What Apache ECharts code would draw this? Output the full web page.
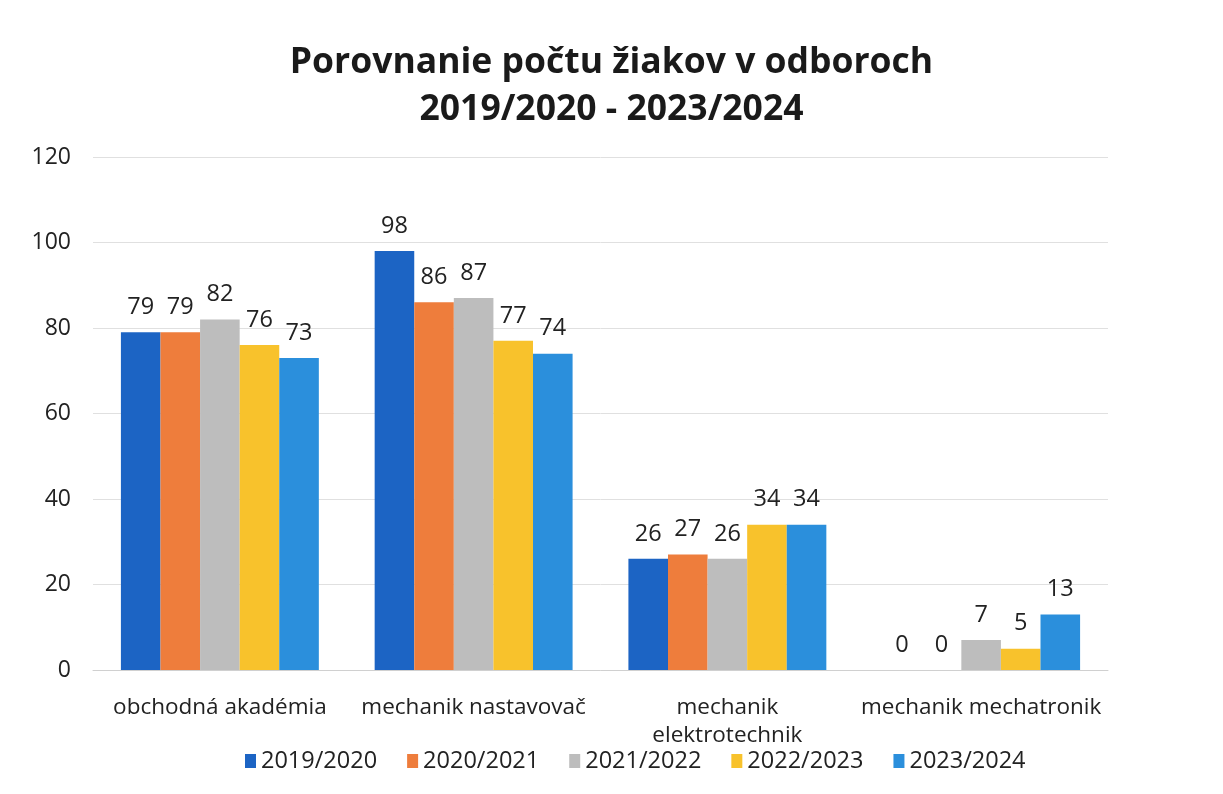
<!DOCTYPE html>
<html>
<head>
<meta charset="utf-8">
<script src="https://cdn.jsdelivr.net/npm/echarts@6/dist/echarts.min.js"></script>
<style>
  html, body { margin: 0; padding: 0; background: #fff; }
  #chart { width: 1223px; height: 794px; }
</style>
</head>
<body>
<div id="chart"></div>
<script>
const categories = ['obchodná akadémia', 'mechanik nastavovač', 'mechanik\nelektrotechnik', 'mechanik mechatronik']
const seriesNames = ['2019/2020', '2020/2021', '2021/2022', '2022/2023', '2023/2024']
const y2019 = [79, 98, 26, 0]
const y2020 = [79, 86, 27, 0]
const y2021 = [82, 87, 26, 7]
const y2022 = [76, 77, 34, 5]
const y2023 = [73, 74, 34, 13]
const colors = ['#1c64c4', '#ee7d3c', '#bdbdbd', '#f8c22c', '#2b8fdc']

const values = [y2019, y2020, y2021, y2022, y2023]
const font = 'Open Sans'

const chart = echarts.init(document.getElementById('chart'))
chart.setOption({
    title: {
        text: 'Porovnanie počtu žiakov v odboroch\n2019/2020 - 2023/2024',
        left: 'center',
        top: 34,
        textStyle: {
            fontFamily: font,
            fontSize: 35.5,
            fontWeight: 'bold',
            color: '#1a1a1a',
            lineHeight: 47
        }
    },
    legend: {
        data: seriesNames,
        bottom: 16,
        left: 240,
        icon: 'rect',
        itemWidth: 11,
        itemHeight: 14,
        itemGap: 30,
        textStyle: { fontFamily: font, fontSize: 23.5, color: '#222' }
    },
    grid: {
        left: 93,
        right: 115,
        top: 157,
        bottom: 124
    },
    xAxis: {
        type: 'category',
        data: categories,
        axisTick: { show: false },
        axisLine: { lineStyle: { color: '#d0d0d0' } },
        axisLabel: {
            interval: 0,
            fontFamily: font,
            fontSize: 22.5,
            color: '#222',
            margin: 24,
            lineHeight: 28
        }
    },
    yAxis: {
        type: 'value',
        min: 0,
        max: 120,
        interval: 20,
        axisTick: { show: false },
        axisLine: { show: false },
        axisLabel: { fontFamily: font, fontSize: 23, color: '#222', margin: 22 },
        splitLine: { lineStyle: { color: '#e0e0e0' } }
    },
    series: seriesNames.map((name, i) => ({
        name: name,
        type: 'bar',
        data: values[i],
        barGap: '0%',
        barCategoryGap: '22%',
        itemStyle: { color: colors[i] },
        label: {
            show: true,
            position: 'top',
            distance: 13,
            fontFamily: font,
            fontSize: 23.5,
            color: '#222'
        }
    }))
})
</script>
</body>
</html>
